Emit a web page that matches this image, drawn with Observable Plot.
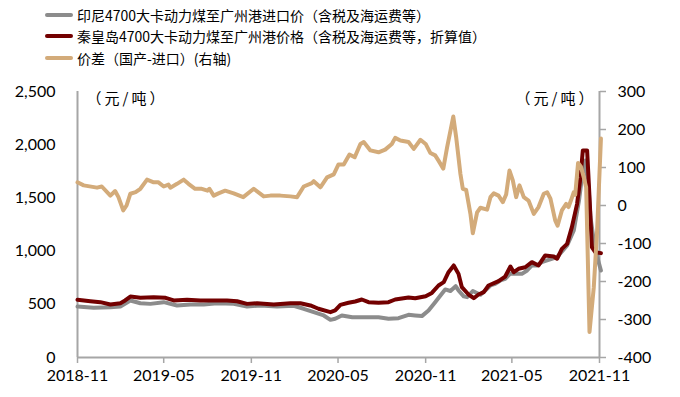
<!DOCTYPE html>
<html><head><meta charset="utf-8">
<script src="https://cdn.jsdelivr.net/npm/d3@7"></script>
<script src="https://cdn.jsdelivr.net/npm/@observablehq/plot@0.6"></script>
<style>
body{margin:0;background:#fff;width:680px;height:397px;overflow:hidden}
#legend{height:68px;box-sizing:border-box;padding:4px 0 0 45px;font-family:"Noto Sans CJK SC",sans-serif;font-size:14px;color:#000}
.row{height:21.5px;display:flex;align-items:center;white-space:nowrap}
.sw{width:28px;height:4px;margin-right:4px;border-radius:2px;flex:none}
</style></head><body>
<div id="legend"></div>
<div id="chart"></div>
<script>
// ---- data ----
const seriesNames = [
  "印尼4700大卡动力煤至广州港进口价（含税及海运费等）",
  "秦皇岛4700大卡动力煤至广州港价格（含税及海运费等，折算值）",
  "价差（国产-进口）(右轴)"
];
const seriesColors = ["#8c8c8c", "#730000", "#d3ab7a"];

const grayDates = ["2018-11-01","2018-12-05","2019-01-09","2019-01-30","2019-02-20","2019-03-13","2019-04-03","2019-05-01","2019-05-29","2019-06-26","2019-07-24","2019-08-21","2019-09-25","2019-10-23","2019-11-20","2019-12-25","2020-01-29","2020-02-19","2020-03-11","2020-04-01","2020-04-15","2020-04-25","2020-05-09","2020-05-31","2020-06-20","2020-07-25","2020-08-15","2020-09-05","2020-09-26","2020-10-10","2020-10-24","2020-11-07","2020-11-21","2020-12-02","2020-12-12","2020-12-23","2021-01-03","2021-01-09","2021-01-20","2021-01-27","2021-02-08","2021-02-24","2021-03-06","2021-03-17","2021-03-27","2021-04-07","2021-04-17","2021-04-28","2021-05-08","2021-05-22","2021-06-02","2021-06-12","2021-06-23","2021-07-03","2021-07-14","2021-08-04","2021-08-25","2021-09-08","2021-09-19","2021-09-26","2021-10-02","2021-10-09","2021-10-13","2021-10-20","2021-10-27","2021-11-04"];
const grayValues = [479,467,473,479,536,510,504,520,489,498,498,510,504,479,489,479,486,458,426,395,354,364,395,379,379,379,364,370,401,395,389,442,520,583,640,625,670,630,575,567,625,590,630,677,692,724,739,790,786,786,818,865,865,896,912,943,1053,1194,1476,1726,1852,1600,1319,1100,950,818];

const redDates = ["2018-11-01","2018-11-28","2018-12-19","2019-01-09","2019-01-30","2019-02-09","2019-02-20","2019-03-13","2019-04-10","2019-05-05","2019-05-22","2019-06-19","2019-07-17","2019-09-11","2019-10-02","2019-10-23","2019-11-13","2019-12-18","2020-01-22","2020-02-12","2020-03-04","2020-03-21","2020-04-15","2020-04-25","2020-05-06","2020-05-23","2020-06-06","2020-06-20","2020-07-04","2020-07-25","2020-08-15","2020-08-29","2020-09-26","2020-10-10","2020-11-01","2020-11-14","2020-11-28","2020-12-09","2020-12-19","2020-12-30","2021-01-09","2021-01-16","2021-01-30","2021-02-10","2021-02-20","2021-03-03","2021-03-13","2021-04-03","2021-04-17","2021-04-28","2021-05-05","2021-05-15","2021-05-29","2021-06-12","2021-06-26","2021-07-10","2021-07-28","2021-08-04","2021-08-14","2021-08-25","2021-09-04","2021-09-15","2021-09-22","2021-09-27","2021-10-06","2021-10-11","2021-10-16","2021-10-23","2021-11-04"];
const redValues = [542,529,520,498,510,536,573,561,567,561,536,542,536,536,529,504,510,498,510,510,489,458,426,442,495,514,526,545,520,514,520,545,564,557,576,607,677,708,802,865,786,661,592,557,592,614,677,717,761,855,802,834,848,896,865,959,949,928,1021,1068,1225,1444,1695,1946,1946,1507,1037,990,981];

const spreadDates = ["2018-11-01","2018-11-14","2018-12-12","2018-12-22","2019-01-09","2019-01-19","2019-01-26","2019-02-05","2019-02-12","2019-02-20","2019-03-03","2019-03-13","2019-03-27","2019-04-10","2019-04-20","2019-05-01","2019-05-11","2019-05-15","2019-05-29","2019-06-12","2019-06-22","2019-07-06","2019-07-20","2019-08-01","2019-08-05","2019-08-14","2019-08-24","2019-09-07","2019-09-25","2019-10-15","2019-11-06","2019-11-27","2019-12-11","2020-01-01","2020-01-22","2020-02-05","2020-02-19","2020-03-07","2020-03-11","2020-03-25","2020-04-08","2020-04-22","2020-05-02","2020-05-13","2020-05-25","2020-06-05","2020-06-17","2020-06-24","2020-07-08","2020-07-25","2020-08-08","2020-08-22","2020-08-29","2020-09-09","2020-09-26","2020-10-07","2020-10-21","2020-11-01","2020-11-11","2020-11-21","2020-11-28","2020-12-08","2020-12-16","2020-12-29","2021-01-04","2021-01-13","2021-01-18","2021-01-25","2021-02-03","2021-02-08","2021-02-17","2021-02-24","2021-03-10","2021-03-17","2021-03-24","2021-04-03","2021-04-12","2021-04-19","2021-04-26","2021-05-03","2021-05-10","2021-05-17","2021-05-26","2021-06-05","2021-06-16","2021-06-26","2021-07-07","2021-07-14","2021-07-21","2021-07-31","2021-08-05","2021-08-14","2021-08-23","2021-08-28","2021-09-02","2021-09-08","2021-09-11","2021-09-17","2021-09-23","2021-09-29","2021-10-04","2021-10-11","2021-10-20","2021-10-27","2021-11-04"];
const spreadValues = [61,53,47,50,26,38,22,-13,0,31,35,44,68,61,61,50,55,47,57,68,57,44,44,39,44,26,32,39,32,22,44,24,26,26,24,22,50,59,64,48,74,82,108,108,134,127,162,167,145,140,147,162,178,171,167,149,173,162,138,132,118,97,153,234,180,83,44,41,-22,-73,-18,-6,-11,22,32,26,9,29,92,66,22,53,22,13,-22,-4,31,35,18,-39,-53,-13,4,-4,13,35,28,112,102,74,48,-333,-215,-66,176];

const xDomain = ["2018-11-01","2021-11-01"];
const xTicks = ["2018-11-01","2019-05-01","2019-11-01","2020-05-01","2020-11-01","2021-05-01","2021-11-01"];
const leftDomain = [0, 2500];
const leftTicks = [0, 500, 1000, 1500, 2000, 2500];
const rightDomain = [-400, 300];
const rightTicks = [-400, -300, -200, -100, 0, 100, 200, 300];
const unitLabel = "（元/吨）";

// ---- build ----
const legend = document.getElementById("legend");
seriesNames.forEach((n, i) => {
  const r = document.createElement("div"); r.className = "row";
  const s = document.createElement("span"); s.className = "sw"; s.style.background = seriesColors[i];
  const t = document.createElement("span"); t.textContent = n;
  r.appendChild(s); r.appendChild(t); legend.appendChild(r);
});

const toLeft = v => (v - rightDomain[0]) * (leftDomain[1] - leftDomain[0]) / (rightDomain[1] - rightDomain[0]) + leftDomain[0];
const fromLeft = v => (v - leftDomain[0]) * (rightDomain[1] - rightDomain[0]) / (leftDomain[1] - leftDomain[0]) + rightDomain[0];

const gray = grayDates.map((d, i) => ({date: new Date(d), value: grayValues[i]}));
const red = redDates.map((d, i) => ({date: new Date(d), value: redValues[i]}));
const spread = spreadDates.map((d, i) => ({date: new Date(d), value: spreadValues[i]}));

const X0 = new Date(xDomain[0]), X1 = new Date(xDomain[1]);
const axisColor = "#a6a6a6";

const chart = Plot.plot({
  width: 680, height: 329,
  marginTop: 23, marginBottom: 40, marginLeft: 77, marginRight: 81,
  style: {fontFamily: "Lato, 'Noto Sans CJK SC', sans-serif", fontSize: "16px", color: "#000", background: "#fff", overflow: "visible"},
  x: {type: "utc", domain: [X0, X1]},
  y: {domain: leftDomain},
  marks: [
    Plot.axisX({ticks: xTicks.map(d => new Date(d)), tickFormat: d3.utcFormat("%Y-%m"), tickSize: 6, tickPadding: 6, stroke: axisColor, strokeWidth: 1.5, label: null}),
    Plot.axisY({anchor: "left", ticks: leftTicks, tickSize: 0, tickPadding: 22, tickFormat: d3.format(","), label: null}),
    Plot.axisY({anchor: "right", ticks: rightTicks.map(toLeft), tickFormat: d => String(Math.round(fromLeft(d))), tickSize: 6, tickPadding: 12, stroke: axisColor, strokeWidth: 1.5, label: null}),
    Plot.ruleX([X0, X1], {stroke: axisColor, strokeWidth: 2}),
    Plot.ruleY([leftDomain[0]], {stroke: axisColor, strokeWidth: 2}),
    Plot.lineY(gray, {x: "date", y: "value", stroke: seriesColors[0], strokeWidth: 4}),
    Plot.lineY(red, {x: "date", y: "value", stroke: seriesColors[1], strokeWidth: 4}),
    Plot.lineY(spread, {x: "date", y: d => toLeft(d.value), stroke: seriesColors[2], strokeWidth: 4}),
    Plot.text([unitLabel], {frameAnchor: "top-left", dx: 9, dy: 2, fontSize: 15, fontFamily: "Noto Sans CJK SC", fill: "#000"}),
    Plot.text([unitLabel], {frameAnchor: "top-right", dx: -3, dy: 2, fontSize: 15, fontFamily: "Noto Sans CJK SC", fill: "#000"})
  ]
});
d3.select(chart).selectAll("text").filter(function() { return this.textContent === unitLabel; }).attr("letter-spacing", 3);
document.getElementById("chart").appendChild(chart);
</script>
</body></html>
